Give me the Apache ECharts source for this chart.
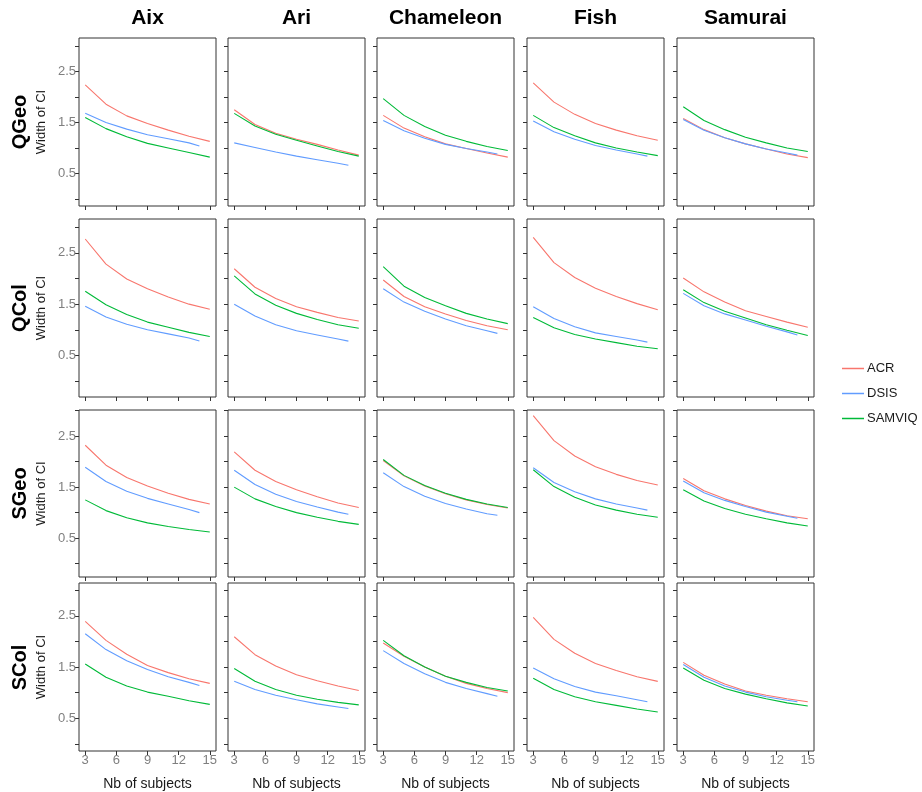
<!DOCTYPE html>
<html>
<head>
<meta charset="utf-8">
<script src="https://cdn.jsdelivr.net/npm/echarts@6/dist/echarts.min.js"></script>
<style>
  html, body { margin: 0; padding: 0; background: #fff; }
  #chart { width: 922px; height: 792px; }
</style>
</head>
<body>
<div id="chart"></div>
<script>
// facets
const colNames = ["Aix", "Ari", "Chameleon", "Fish", "Samurai"];
const rowNames = ["QGeo", "QCol", "SGeo", "SCol"];
const methods = ["ACR", "DSIS", "SAMVIQ"];

// x values (DSIS stops at 14)
const nbSubjects = [3, 5, 7, 9, 11, 13, 15];
const nbSubjectsDsis = [3, 5, 7, 9, 11, 13, 14];
const xTicks = [3, 6, 9, 12, 15];
const yTicks = [0, 0.5, 1, 1.5, 2, 2.5, 3];
const yLabels = [0.5, 1.5, 2.5];

// width of CI, one line per database (Aix, Ari, Chameleon, Fish, Samurai)
const acrQGeo = [
  [2.24, 1.86, 1.63, 1.48, 1.35, 1.23, 1.13],
  [1.75, 1.46, 1.29, 1.17, 1.07, 0.96, 0.86],
  [1.64, 1.39, 1.22, 1.08, 0.99, 0.90, 0.82],
  [2.28, 1.90, 1.66, 1.48, 1.35, 1.24, 1.15],
  [1.58, 1.36, 1.20, 1.08, 0.98, 0.88, 0.81]
];
const dsisQGeo = [
  [1.68, 1.50, 1.37, 1.26, 1.18, 1.10, 1.04],
  [1.10, 1.01, 0.92, 0.84, 0.77, 0.70, 0.66],
  [1.54, 1.34, 1.19, 1.07, 0.99, 0.92, 0.88],
  [1.53, 1.32, 1.17, 1.05, 0.96, 0.88, 0.84],
  [1.56, 1.35, 1.20, 1.08, 0.98, 0.90, 0.86]
];
const samviqQGeo = [
  [1.60, 1.38, 1.22, 1.09, 1.00, 0.91, 0.82],
  [1.68, 1.43, 1.27, 1.15, 1.04, 0.93, 0.84],
  [1.97, 1.64, 1.42, 1.25, 1.13, 1.03, 0.95],
  [1.64, 1.40, 1.24, 1.10, 1.00, 0.92, 0.85],
  [1.81, 1.54, 1.36, 1.21, 1.10, 1.00, 0.93]
];

const acrQCol = [
  [2.77, 2.28, 1.99, 1.80, 1.64, 1.50, 1.40],
  [2.19, 1.83, 1.61, 1.45, 1.34, 1.24, 1.17],
  [1.97, 1.65, 1.45, 1.31, 1.18, 1.08, 1.00],
  [2.80, 2.31, 2.02, 1.81, 1.65, 1.51, 1.39],
  [2.01, 1.74, 1.54, 1.37, 1.26, 1.15, 1.05]
];
const dsisQCol = [
  [1.46, 1.25, 1.11, 1.00, 0.92, 0.84, 0.78],
  [1.50, 1.27, 1.10, 0.98, 0.90, 0.82, 0.78],
  [1.80, 1.54, 1.36, 1.21, 1.08, 0.98, 0.93],
  [1.45, 1.22, 1.06, 0.94, 0.87, 0.80, 0.76],
  [1.71, 1.47, 1.31, 1.19, 1.07, 0.96, 0.90]
];
const samviqQCol = [
  [1.75, 1.49, 1.30, 1.15, 1.05, 0.95, 0.87],
  [2.05, 1.70, 1.48, 1.32, 1.20, 1.10, 1.03],
  [2.23, 1.85, 1.63, 1.47, 1.32, 1.21, 1.12],
  [1.24, 1.04, 0.91, 0.82, 0.75, 0.68, 0.63],
  [1.78, 1.53, 1.36, 1.23, 1.10, 0.99, 0.89]
];

const acrSGeo = [
  [2.32, 1.93, 1.69, 1.52, 1.38, 1.26, 1.17],
  [2.19, 1.83, 1.61, 1.45, 1.31, 1.19, 1.10],
  [2.02, 1.72, 1.52, 1.37, 1.25, 1.16, 1.09],
  [2.90, 2.41, 2.11, 1.90, 1.75, 1.63, 1.54],
  [1.67, 1.43, 1.27, 1.14, 1.03, 0.94, 0.88]
];
const dsisSGeo = [
  [1.89, 1.61, 1.42, 1.28, 1.17, 1.06, 1.00],
  [1.83, 1.55, 1.36, 1.22, 1.11, 1.01, 0.97],
  [1.78, 1.51, 1.32, 1.18, 1.07, 0.98, 0.95],
  [1.88, 1.59, 1.41, 1.27, 1.17, 1.09, 1.05],
  [1.62, 1.39, 1.24, 1.12, 1.01, 0.93, 0.89]
];
const samviqSGeo = [
  [1.25, 1.04, 0.90, 0.80, 0.73, 0.67, 0.62],
  [1.50, 1.27, 1.12, 1.00, 0.91, 0.83, 0.77],
  [2.04, 1.73, 1.53, 1.38, 1.26, 1.17, 1.10],
  [1.84, 1.51, 1.30, 1.15, 1.05, 0.97, 0.91],
  [1.45, 1.23, 1.08, 0.97, 0.88, 0.80, 0.74]
];

const acrSCol = [
  [2.39, 2.02, 1.75, 1.53, 1.39, 1.27, 1.18],
  [2.09, 1.74, 1.52, 1.35, 1.23, 1.13, 1.04],
  [1.97, 1.71, 1.50, 1.32, 1.18, 1.08, 1.00],
  [2.47, 2.04, 1.77, 1.57, 1.43, 1.31, 1.22],
  [1.59, 1.34, 1.17, 1.03, 0.95, 0.88, 0.82]
];
const dsisSCol = [
  [2.15, 1.84, 1.62, 1.45, 1.31, 1.20, 1.14],
  [1.22, 1.06, 0.95, 0.86, 0.78, 0.72, 0.69],
  [1.82, 1.57, 1.37, 1.20, 1.08, 0.98, 0.93],
  [1.48, 1.27, 1.12, 1.01, 0.94, 0.86, 0.82],
  [1.55, 1.30, 1.13, 1.01, 0.92, 0.85, 0.82]
];
const samviqSCol = [
  [1.56, 1.30, 1.13, 1.01, 0.93, 0.84, 0.77],
  [1.47, 1.22, 1.06, 0.95, 0.87, 0.81, 0.76],
  [2.02, 1.72, 1.50, 1.32, 1.20, 1.10, 1.03],
  [1.28, 1.06, 0.92, 0.82, 0.75, 0.68, 0.62],
  [1.48, 1.24, 1.08, 0.97, 0.88, 0.80, 0.74]
];

const byMethod = {
  ACR: [acrQGeo, acrQCol, acrSGeo, acrSCol],
  DSIS: [dsisQGeo, dsisQCol, dsisSGeo, dsisSCol],
  SAMVIQ: [samviqQGeo, samviqQCol, samviqSGeo, samviqSCol]
};
const colors = { ACR: "#F8766D", DSIS: "#619CFF", SAMVIQ: "#00BA38" };

// panel layout
const panelLeft = [79, 228, 377, 527, 677];
const panelWidth = 137;
const panelTop = [38, 219, 410, 583];
const panelHeight = [168, 178, 167, 169];
const yMin = [-0.14, -0.31, -0.26, -0.14];
const yMax = [3.16, 3.16, 3.01, 3.14];

const FONT = "'Liberation Sans', Arial, sans-serif";
const grids = [], xAxes = [], yAxes = [], series = [], graphics = [];

rowNames.forEach(function (rowName, r) {
  colNames.forEach(function (colName, c) {
    const idx = r * colNames.length + c;
    grids.push({
      left: panelLeft[c], top: panelTop[r], width: panelWidth, height: panelHeight[r],
      show: true, borderColor: "#333", borderWidth: 1, backgroundColor: "#fff"
    });
    xAxes.push({
      gridIndex: idx, type: "value", min: 2.4, max: 15.6, position: "bottom",
      axisLine: { show: false, onZero: false }, splitLine: { show: false },
      axisTick: { show: true, length: 4, customValues: xTicks, lineStyle: { color: "#333" } },
      axisLabel: { show: r === 3, customValues: xTicks, color: "#7f7f7f", fontSize: 13, margin: 3, fontFamily: FONT },
      name: r === 3 ? "Nb of subjects" : "", nameLocation: "middle", nameGap: 26,
      nameTextStyle: { color: "#1a1a1a", fontSize: 14, fontFamily: FONT }
    });
    yAxes.push({
      gridIndex: idx, type: "value", min: yMin[r], max: yMax[r], position: "left",
      axisLine: { show: false, onZero: false }, splitLine: { show: false },
      axisTick: { show: true, length: 4, customValues: yTicks, lineStyle: { color: "#333" } },
      axisLabel: {
        show: c === 0, customValues: yLabels, color: "#7f7f7f", fontSize: 13, margin: 3, fontFamily: FONT,
        formatter: function (v) { return v.toFixed(1); }
      },
      name: c === 0 ? "Width of CI" : "", nameLocation: "middle", nameGap: 31, nameRotate: 90,
      nameTextStyle: { color: "#1a1a1a", fontSize: 13, fontFamily: FONT }
    });
    methods.forEach(function (m) {
      const xs = m === "DSIS" ? nbSubjectsDsis : nbSubjects;
      const vals = byMethod[m][r][c];
      series.push({
        type: "line", name: m, xAxisIndex: idx, yAxisIndex: idx,
        data: xs.map(function (x, i) { return [x, vals[i]]; }),
        showSymbol: false, smooth: false,
        lineStyle: { width: 1.1, color: colors[m] }, itemStyle: { color: colors[m] },
        emphasis: { disabled: true }
      });
    });
    if (r === 0) {
      graphics.push({
        type: "text", x: panelLeft[c] + panelWidth / 2, y: 18,
        style: { text: colName, font: "bold 21px " + FONT, fill: "#000", textAlign: "center", textVerticalAlign: "middle" }
      });
    }
  });
  graphics.push({
    type: "text", x: 20, y: panelTop[r] + panelHeight[r] / 2, rotation: Math.PI / 2,
    style: { text: rowName, font: "bold 20px " + FONT, fill: "#000", textAlign: "center", textVerticalAlign: "middle" }
  });
});

const chart = echarts.init(document.getElementById("chart"));
chart.setOption({
  animation: false,
  backgroundColor: "#fff",
  textStyle: { fontFamily: FONT },
  grid: grids,
  xAxis: xAxes,
  yAxis: yAxes,
  series: series,
  graphic: graphics,
  legend: {
    data: methods, orient: "vertical", left: 842, top: 362, padding: 0,
    icon: "rect", itemWidth: 22, itemHeight: 1.5, itemGap: 12,
    textStyle: { color: "#1a1a1a", fontSize: 13, fontFamily: FONT, padding: [0, 0, 0, -2] }
  }
});
</script>
</body>
</html>
